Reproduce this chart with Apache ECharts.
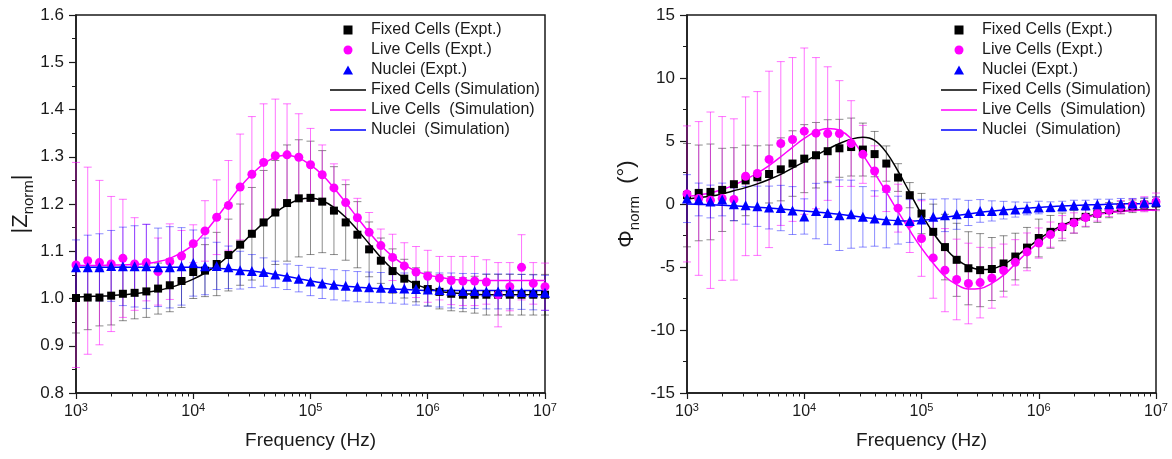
<!DOCTYPE html>
<html>
<head>
<meta charset="utf-8">
<script src="https://cdn.jsdelivr.net/npm/echarts@6/dist/echarts.min.js"></script>
<style>
html, body { margin: 0; padding: 0; background: #fff; }
#chart { width: 1172px; height: 459px; }
</style>
</head>
<body>
<div id="chart"></div>
<script>
// measurement frequencies (Hz), 10 points per decade
var freq = [1000, 1259, 1585, 1995, 2512, 3162, 3981, 5012, 6310, 7943,
  10000, 12589, 15849, 19953, 25119, 31623, 39811, 50119, 63096, 79433,
  100000, 125893, 158489, 199526, 251189, 316228, 398107, 501187, 630957, 794328,
  1000000, 1258925, 1584893, 1995262, 2511886, 3162278, 3981072, 5011872, 6309573, 7943282, 10000000];

// |Z_norm| panel
var zFixed = [1.001, 1.002, 1.002, 1.006, 1.010, 1.012, 1.015, 1.021, 1.028, 1.037,
  1.056, 1.059, 1.073, 1.092, 1.114, 1.137, 1.161, 1.182, 1.202, 1.212,
  1.213, 1.205, 1.186, 1.161, 1.135, 1.104, 1.080, 1.058, 1.042, 1.029,
  1.020, 1.014, 1.010, 1.008, 1.008, 1.008, 1.008, 1.008, 1.008, 1.008, 1.008];
var zFixedErr = [0.074, 0.068, 0.060, 0.062, 0.057, 0.055, 0.055, 0.054, 0.056, 0.056,
  0.056, 0.055, 0.067, 0.076, 0.086, 0.098, 0.110, 0.110, 0.123, 0.124,
  0.120, 0.108, 0.093, 0.080, 0.070, 0.058, 0.048, 0.047, 0.041, 0.036,
  0.036, 0.036, 0.036, 0.036, 0.039, 0.043, 0.043, 0.043, 0.043, 0.043, 0.043];
var zLive = [1.071, 1.080, 1.076, 1.073, 1.085, 1.073, 1.076, 1.057, 1.078, 1.090,
  1.116, 1.143, 1.172, 1.197, 1.236, 1.263, 1.288, 1.302, 1.304, 1.299,
  1.283, 1.262, 1.234, 1.203, 1.171, 1.140, 1.112, 1.087, 1.069, 1.056,
  1.047, 1.043, 1.038, 1.037, 1.037, 1.035, 1.008, 1.025, 1.066, 1.032, 1.025];
var zLiveErr = [0.217, 0.198, 0.174, 0.143, 0.125, 0.098, 0.081, 0.071, 0.080, 0.054,
  0.040, 0.064, 0.079, 0.095, 0.112, 0.122, 0.124, 0.120, 0.108, 0.092,
  0.077, 0.063, 0.051, 0.048, 0.041, 0.042, 0.035, 0.049, 0.049, 0.054,
  0.055, 0.046, 0.051, 0.052, 0.052, 0.047, 0.068, 0.051, 0.069, 0.044, 0.050];
var zNuclei = [1.066, 1.066, 1.066, 1.069, 1.068, 1.068, 1.068, 1.066, 1.066, 1.068,
  1.075, 1.068, 1.069, 1.066, 1.060, 1.058, 1.056, 1.051, 1.046, 1.042,
  1.036, 1.032, 1.029, 1.027, 1.025, 1.024, 1.023, 1.022, 1.021, 1.020,
  1.019, 1.018, 1.017, 1.016, 1.016, 1.015, 1.015, 1.015, 1.014, 1.013, 1.012];
var zNucleiErr = [0.058, 0.068, 0.071, 0.075, 0.083, 0.086, 0.089, 0.083, 0.086, 0.082,
  0.070, 0.060, 0.050, 0.045, 0.040, 0.035, 0.030, 0.028, 0.027, 0.028,
  0.030, 0.032, 0.032, 0.032, 0.032, 0.032, 0.032, 0.032, 0.033, 0.034,
  0.035, 0.036, 0.037, 0.037, 0.037, 0.037, 0.037, 0.037, 0.037, 0.037, 0.037];
var zFixedSim = [1.003, 1.004, 1.005, 1.006, 1.008, 1.010, 1.013, 1.017, 1.023, 1.031,
  1.041, 1.054, 1.070, 1.090, 1.113, 1.137, 1.160, 1.181, 1.198, 1.209,
  1.212, 1.207, 1.193, 1.172, 1.145, 1.116, 1.087, 1.062, 1.043, 1.030,
  1.021, 1.015, 1.012, 1.010, 1.009, 1.008, 1.008, 1.008, 1.008, 1.008, 1.008];
var zLiveSim = [1.070, 1.070, 1.070, 1.071, 1.071, 1.072, 1.074, 1.078, 1.085, 1.097,
  1.114, 1.140, 1.171, 1.204, 1.236, 1.263, 1.285, 1.299, 1.303, 1.297,
  1.283, 1.262, 1.234, 1.203, 1.171, 1.140, 1.112, 1.089, 1.071, 1.058,
  1.050, 1.045, 1.041, 1.039, 1.038, 1.038, 1.038, 1.038, 1.038, 1.038, 1.038];
var zNucleiSim = [1.066, 1.066, 1.066, 1.066, 1.066, 1.066, 1.066, 1.066, 1.066, 1.066,
  1.066, 1.065, 1.064, 1.062, 1.060, 1.058, 1.055, 1.051, 1.047, 1.042,
  1.037, 1.033, 1.029, 1.026, 1.024, 1.022, 1.021, 1.020, 1.019, 1.018,
  1.017, 1.017, 1.017, 1.017, 1.017, 1.017, 1.017, 1.017, 1.017, 1.017, 1.017];

// Phi_norm panel
var pFixed = [0.70, 0.88, 0.96, 1.12, 1.57, 1.87, 2.12, 2.38, 2.75, 3.21,
  3.60, 3.87, 4.19, 4.42, 4.52, 4.32, 3.96, 3.21, 2.10, 0.70,
  -0.76, -2.21, -3.42, -4.43, -5.10, -5.25, -5.16, -4.72, -4.17, -3.46,
  -2.70, -2.21, -1.82, -1.42, -1.02, -0.76, -0.49, -0.28, -0.18, -0.05, 0.05];
var pFixedErr = [4.1, 3.8, 3.8, 3.3, 2.9, 2.8, 2.5, 2.3, 2.5, 2.6,
  2.7, 2.6, 2.5, 2.3, 2.3, 2.1, 1.8, 1.4, 1.1, 1.0,
  1.6, 2.2, 2.6, 2.9, 2.9, 2.9, 2.5, 2.2, 1.85, 1.6,
  1.5, 1.3, 1.1, 0.9, 0.8, 0.7, 0.6, 0.5, 0.5, 0.5, 0.5];
var pLive = [0.80, 0.44, 0.30, 0.44, 0.36, 2.20, 2.42, 3.54, 4.80, 5.12,
  5.78, 5.62, 5.59, 5.59, 4.80, 3.94, 2.62, 1.20, -0.33, -1.55,
  -2.74, -4.28, -5.25, -5.99, -6.31, -6.24, -5.87, -5.28, -4.63, -3.80,
  -3.10, -2.43, -1.82, -1.50, -1.07, -0.76, -0.49, -0.23, -0.10, -0.02, 0.17];
var pLiveErr = [5.4, 6.1, 7.0, 6.5, 6.4, 6.3, 6.5, 7.0, 6.5, 6.5,
  6.6, 6.0, 5.3, 4.2, 3.4, 2.3, 2.0, 1.8, 1.9, 2.3,
  3.0, 3.2, 3.3, 3.2, 3.2, 2.8, 2.4, 2.1, 1.8, 1.5,
  1.2, 1.0, 0.9, 0.8, 0.7, 0.6, 0.5, 0.5, 0.5, 0.6, 0.7];
var pNuclei = [0.43, 0.36, 0.20, 0.36, -0.02, -0.10, -0.18, -0.28, -0.32, -0.52,
  -0.99, -0.56, -0.71, -0.89, -0.81, -1.02, -1.15, -1.28, -1.28, -1.35,
  -1.23, -1.02, -0.89, -0.81, -0.71, -0.55, -0.55, -0.49, -0.44, -0.36,
  -0.28, -0.23, -0.18, -0.10, -0.10, -0.02, -0.02, 0.04, 0.04, 0.09, 0.17];
var pNucleiErr = [1.9, 1.3, 1.3, 1.3, 1.3, 1.5, 1.6, 1.7, 1.8, 1.9,
  1.4, 2.2, 2.5, 2.8, 2.7, 2.4, 2.2, 2.2, 1.9, 1.7,
  1.6, 1.4, 1.3, 1.2, 1.0, 0.9, 0.8, 0.7, 0.6, 0.5,
  0.5, 0.4, 0.4, 0.4, 0.4, 0.4, 0.4, 0.4, 0.4, 0.4, 0.4];
var pFixedSim = [0.40, 0.50, 0.62, 0.80, 1.05, 1.30, 1.60, 1.95, 2.35, 2.85,
  3.35, 3.85, 4.35, 4.80, 5.15, 5.30, 5.05, 4.10, 2.60, 0.90,
  -0.80, -2.30, -3.50, -4.40, -4.95, -5.20, -5.15, -4.80, -4.20, -3.50,
  -2.80, -2.20, -1.70, -1.30, -1.00, -0.80, -0.65, -0.55, -0.50, -0.45, -0.45];
var pLiveSim = [0.60, 0.72, 0.88, 1.15, 1.50, 1.95, 2.45, 3.05, 3.75, 4.50,
  5.20, 5.75, 6.00, 5.85, 5.20, 3.90, 2.45, 0.95, -0.60, -2.10,
  -3.50, -4.70, -5.75, -6.40, -6.75, -6.70, -6.30, -5.65, -4.75, -3.85,
  -3.05, -2.35, -1.80, -1.40, -1.10, -0.85, -0.70, -0.60, -0.52, -0.50, -0.48];
var pNucleiSim = [0.00, -0.03, -0.06, -0.10, -0.14, -0.20, -0.26, -0.32, -0.40, -0.47,
  -0.55, -0.63, -0.72, -0.82, -0.93, -1.05, -1.16, -1.26, -1.32, -1.34,
  -1.30, -1.20, -1.06, -0.92, -0.79, -0.67, -0.57, -0.48, -0.40, -0.33,
  -0.27, -0.21, -0.16, -0.12, -0.08, -0.05, -0.02, 0.00, 0.02, 0.03, 0.04];

var FONT = '"Liberation Sans", Arial, sans-serif';
var INK = '#1a1a1a';

function pairs(ys) {
  return freq.map(function (f, i) { return [f, ys[i]]; });
}
function bars(ys, errs) {
  return freq.map(function (f, i) { return [f, ys[i] - errs[i], ys[i] + errs[i]]; });
}

// vertical error bar with caps
function errorBar(params, api) {
  var lo = api.coord([api.value(0), api.value(1)]);
  var hi = api.coord([api.value(0), api.value(2)]);
  var half = 4;
  var style = { stroke: api.visual('color'), lineWidth: 1, fill: null };
  return {
    type: 'group',
    children: [
      { type: 'line', shape: { x1: lo[0], y1: lo[1], x2: hi[0], y2: hi[1] }, style: style },
      { type: 'line', shape: { x1: lo[0] - half, y1: lo[1], x2: lo[0] + half, y2: lo[1] }, style: style },
      { type: 'line', shape: { x1: hi[0] - half, y1: hi[1], x2: hi[0] + half, y2: hi[1] }, style: style }
    ]
  };
}

// minor ticks at 2..9 x 10^n, on a helper value axis in log10 units
var minorTicks = [];
[3, 4, 5, 6].forEach(function (d) {
  [2, 3, 4, 5, 6, 7, 8, 9].forEach(function (m) { minorTicks.push(d + Math.log10(m)); });
});

function freqAxis(gridIndex) {
  return {
    type: 'log', logBase: 10, gridIndex: gridIndex, min: 1000, max: 10000000, position: 'bottom',
    name: 'Frequency (Hz)', nameLocation: 'middle', nameGap: 38,
    nameTextStyle: { fontSize: 19, color: INK, fontFamily: FONT },
    axisLine: { show: true, onZero: false, lineStyle: { color: INK, width: 1.5 } },
    axisTick: { show: true, inside: false, length: 6, lineStyle: { color: INK, width: 1.2 } },
    axisLabel: {
      margin: 9, color: INK, fontFamily: FONT,
      formatter: function (v) { return '{b|10}{sup|' + Math.round(Math.log10(v)) + '}'; },
      rich: {
        b: { fontSize: 16, fontFamily: FONT, color: INK, lineHeight: 20 },
        sup: { fontSize: 11, fontFamily: FONT, color: INK, lineHeight: 11, verticalAlign: 'top' }
      }
    },
    splitLine: { show: false }
  };
}
function minorAxis(gridIndex) {
  return {
    type: 'value', gridIndex: gridIndex, min: 3, max: 7, position: 'bottom',
    axisLine: { show: false, onZero: false },
    axisLabel: { show: false },
    splitLine: { show: false },
    axisTick: { show: true, inside: false, length: 3.5, customValues: minorTicks, lineStyle: { color: INK, width: 1 } }
  };
}
function valueAxis(gridIndex, min, max, interval, name, gap, fmt) {
  return {
    type: 'value', gridIndex: gridIndex, min: min, max: max, interval: interval,
    name: name, nameLocation: 'middle', nameGap: gap, nameRotate: 90,
    nameTextStyle: {
      fontSize: 22, color: INK, fontFamily: FONT,
      rich: { sub: { fontSize: 15, fontFamily: FONT, color: INK, verticalAlign: 'bottom', lineHeight: 30 } }
    },
    axisLine: { show: true, onZero: false, lineStyle: { color: INK, width: 1.5 } },
    axisTick: { show: true, inside: false, length: 7, lineStyle: { color: INK, width: 1.2 } },
    minorTick: { show: true, splitNumber: 2, length: 4, lineStyle: { color: INK, width: 1 } },
    axisLabel: { margin: 12, fontSize: 17, color: INK, fontFamily: FONT, formatter: fmt },
    splitLine: { show: false }
  };
}

var names = ['Fixed Cells (Expt.)', 'Live Cells (Expt.)', 'Nuclei (Expt.)',
  'Fixed Cells (Simulation)', 'Live Cells  (Simulation)', 'Nuclei  (Simulation)'];
var colors = ['#000000', '#ff00ff', '#0000ff'];
var barColors = ['rgba(0,0,0,0.45)', 'rgba(255,0,255,0.55)', 'rgba(0,0,255,0.45)'];
var symbols = ['rect', 'circle', 'triangle'];
var sizes = [8, 9, 10];

function panelSeries(xi, yi, expt, errs, sims) {
  var list = [];
  for (var i = 0; i < 3; i++) {
    list.push({
      type: 'custom', xAxisIndex: xi, yAxisIndex: yi, renderItem: errorBar,
      itemStyle: { color: barColors[i] }, encode: { x: 0, y: [1, 2] },
      data: bars(expt[i], errs[i]), z: 1, silent: true
    });
  }
  for (var j = 0; j < 3; j++) {
    list.push({
      type: 'line', name: names[3 + j], xAxisIndex: xi, yAxisIndex: yi,
      data: pairs(sims[j]), showSymbol: false, symbol: 'none', smooth: 0.4,
      lineStyle: { color: colors[j], width: 1.5 }, itemStyle: { color: colors[j] }, z: 3
    });
  }
  for (var k = 0; k < 3; k++) {
    list.push({
      type: 'scatter', name: names[k], xAxisIndex: xi, yAxisIndex: yi,
      data: pairs(expt[k]), symbol: symbols[k], symbolSize: sizes[k],
      itemStyle: { color: colors[k], opacity: 1 }, z: 5
    });
  }
  return list;
}

var lineIcon = 'path://M0,0H36V1.5H0Z';
function legendAt(left) {
  return {
    left: left, top: 20, padding: 0, orient: 'vertical', itemWidth: 36, itemHeight: 9, itemGap: 0,
    selectedMode: false,
    textStyle: { fontSize: 16, fontFamily: FONT, color: INK, lineHeight: 20 },
    data: [
      { name: names[0], icon: 'path://M0,0H10V10H0Z' },
      { name: names[1], icon: 'circle' },
      { name: names[2], icon: 'path://M5,0L10,9H0Z' },
      { name: names[3], icon: lineIcon },
      { name: names[4], icon: lineIcon },
      { name: names[5], icon: lineIcon }
    ]
  };
}

var chart = echarts.init(document.getElementById('chart'), null, { renderer: 'canvas' });
chart.setOption({
  animation: false,
  backgroundColor: '#fff',
  grid: [
    { left: 76, top: 15, width: 469, height: 378, show: true, borderColor: INK, borderWidth: 1.5, backgroundColor: 'transparent', outerBoundsMode: 'none' },
    { left: 687, top: 15, width: 469, height: 378, show: true, borderColor: INK, borderWidth: 1.5, backgroundColor: 'transparent', outerBoundsMode: 'none' }
  ],
  xAxis: [freqAxis(0), minorAxis(0), freqAxis(1), minorAxis(1)],
  yAxis: [
    valueAxis(0, 0.8, 1.6, 0.1, '|Z{sub|norm}|', 40, function (v) { return v.toFixed(1); }),
    valueAxis(1, -15, 15, 5, '\u03A6{sub|norm}  (\u00B0)', 45, function (v) { return String(v); })
  ],
  legend: [legendAt(330), legendAt(941)],
  series: panelSeries(0, 0, [zFixed, zLive, zNuclei], [zFixedErr, zLiveErr, zNucleiErr], [zFixedSim, zLiveSim, zNucleiSim])
    .concat(panelSeries(2, 1, [pFixed, pLive, pNuclei], [pFixedErr, pLiveErr, pNucleiErr], [pFixedSim, pLiveSim, pNucleiSim]))
});
</script>
</body>
</html>
